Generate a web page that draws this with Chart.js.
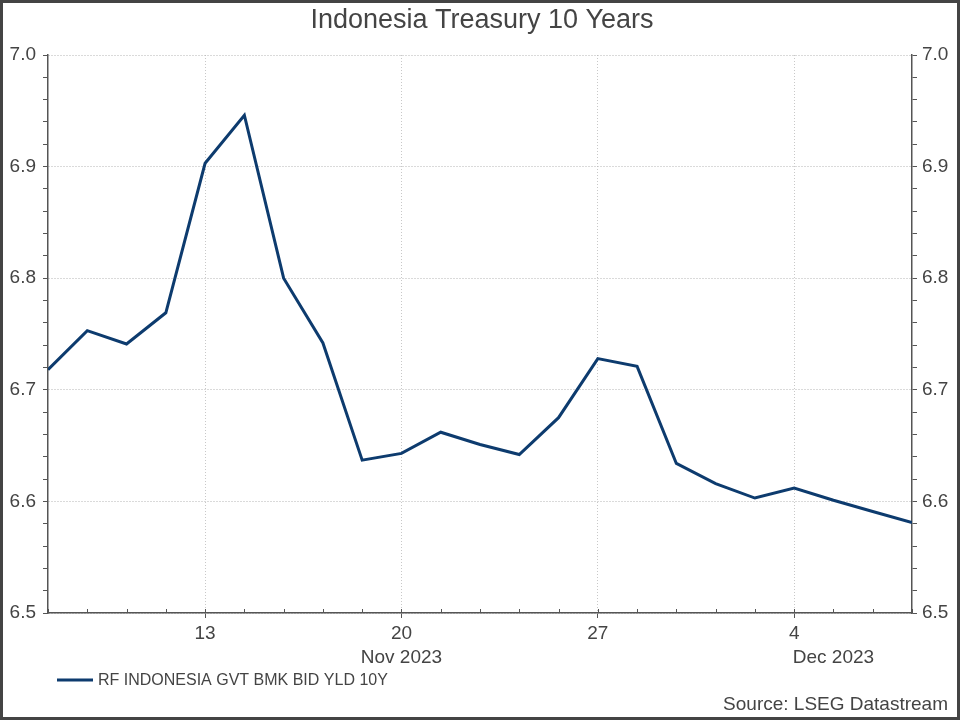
<!DOCTYPE html>
<html>
<head>
<meta charset="utf-8">
<script src="https://cdn.jsdelivr.net/npm/chart.js@4/dist/chart.umd.min.js"></script>
<style>
  html, body { margin: 0; padding: 0; background: #fff; }
  #wrap { width: 960px; height: 720px; }
</style>
</head>
<body>
<div id="wrap"><canvas id="chart" width="960" height="720"></canvas></div>
<script>
// business days, 7 Nov 2023 .. 7 Dec 2023
var dates = ['7 Nov', '8 Nov', '9 Nov', '10 Nov', '13 Nov', '14 Nov', '15 Nov', '16 Nov', '17 Nov',
             '20 Nov', '21 Nov', '22 Nov', '23 Nov', '24 Nov', '27 Nov', '28 Nov', '29 Nov', '30 Nov',
             '1 Dec', '4 Dec', '5 Dec', '6 Dec', '7 Dec'];
var yields = [6.718, 6.753, 6.741, 6.769, 6.903, 6.946, 6.800, 6.742, 6.637,
              6.643, 6.662, 6.651, 6.642, 6.675, 6.728, 6.721, 6.634, 6.616,
              6.603, 6.612, 6.601, 6.591, 6.581];
var dayTickIdx = [4, 9, 14, 19];
var dayTickLabels = ['13', '20', '27', '4'];
var monthTickIdx = [9, 20];
var monthTickLabels = ['Nov 2023', 'Dec 2023'];
var yMajorTicks = [6.5, 6.6, 6.7, 6.8, 6.9, 7.0];

var seriesName = 'RF INDONESIA GVT BMK BID YLD 10Y';
var titleText = 'Indonesia Treasury 10 Years';
var sourceText = 'Source: LSEG Datastream';

var LINE = '#0d3b6e';
var TEXT = '#444444';
var FONT = '"Liberation Sans", Arial, sans-serif';

function isMajorY(v) {
    return yMajorTicks.some(function(t) { return Math.abs(t - v) < 1e-6; });
}

var points = yields.map(function(v, i) { return {x: i, y: v}; });

var decor = {
    id: 'decor',
    afterDraw: function(chart) {
        var ctx = chart.ctx;
        var area = chart.chartArea;
        var xs = chart.scales.x;
        ctx.save();
        // inward minor ticks on x axis
        ctx.strokeStyle = '#555';
        ctx.lineWidth = 1;
        for (var i = 0; i < dates.length; i++) {
            var px = Math.round(xs.getPixelForValue(i)) + 0.5;
            ctx.beginPath();
            ctx.moveTo(px, area.bottom);
            ctx.lineTo(px, area.bottom - 4);
            ctx.stroke();
        }
        // title
        ctx.fillStyle = TEXT;
        ctx.font = '27px ' + FONT;
        ctx.textAlign = 'center';
        ctx.textBaseline = 'middle';
        ctx.fillText(titleText, 482, 21);
        // legend
        ctx.strokeStyle = LINE;
        ctx.lineWidth = 3;
        ctx.beginPath();
        ctx.moveTo(57, 680);
        ctx.lineTo(93, 680);
        ctx.stroke();
        ctx.font = '16px ' + FONT;
        ctx.textAlign = 'left';
        ctx.fillText(seriesName, 98, 681);
        // source
        ctx.font = '19px ' + FONT;
        ctx.textAlign = 'right';
        ctx.fillText(sourceText, 948, 705);
        // frame
        ctx.strokeStyle = '#444';
        ctx.lineWidth = 3;
        ctx.strokeRect(1.5, 1.5, 957, 717);
        ctx.restore();
    }
};

var yAxis = function(pos) {
    return {
        type: 'linear',
        position: pos,
        min: 6.5,
        max: 7.0,
        afterFit: function(scale) { scale.width = 48; },
        ticks: {
            stepSize: 0.02,
            autoSkip: false,
            padding: pos === 'left' ? 7 : 5,
            color: TEXT,
            font: {family: FONT, size: 19},
            callback: function(v) { return isMajorY(v) ? v.toFixed(1) : ''; }
        },
        grid: {
            drawOnChartArea: pos === 'left',
            color: function(c) { return c.tick && isMajorY(c.tick.value) ? '#b5b5b5' : 'rgba(0,0,0,0)'; },
            lineWidth: 1,
            tickLength: 5,
            tickColor: '#555',
            tickWidth: 1
        },
        border: {display: true, color: '#555', width: 1.5, dash: [1, 2]}
    };
};

new Chart(document.getElementById('chart'), {
    type: 'line',
    data: {
        datasets: [{
            label: seriesName,
            data: points,
            borderColor: LINE,
            borderWidth: 3,
            pointRadius: 0,
            tension: 0,
            fill: false
        }]
    },
    options: {
        responsive: false,
        animation: false,
        layout: {padding: {top: 55, left: 0, right: 0, bottom: 0}},
        plugins: {
            legend: {display: false},
            title: {display: false},
            tooltip: {enabled: false}
        },
        scales: {
            x: {
                type: 'linear',
                min: 0,
                max: dates.length - 1,
                afterFit: function(scale) { scale.height = 107; },
                afterBuildTicks: function(scale) {
                    var idx = dayTickIdx.concat(monthTickIdx.filter(function(m) { return dayTickIdx.indexOf(m) < 0; }));
                    scale.ticks = idx.map(function(v) { return {value: v}; });
                },
                ticks: {
                    autoSkip: false,
                    maxRotation: 0,
                    padding: 3,
                    color: TEXT,
                    font: {family: FONT, size: 19, lineHeight: 1.3},
                    callback: function(v) {
                        var d = dayTickIdx.indexOf(v);
                        var m = monthTickIdx.indexOf(v);
                        var lines = [d >= 0 ? dayTickLabels[d] : ''];
                        if (m >= 0) lines.push(monthTickLabels[m]);
                        return lines;
                    }
                },
                grid: {
                    color: function(c) { return c.tick && dayTickIdx.indexOf(c.tick.value) >= 0 ? '#c8c8c8' : 'rgba(0,0,0,0)'; },
                    lineWidth: 1,
                    tickLength: 5,
                    tickColor: function(c) { return c.tick && dayTickIdx.indexOf(c.tick.value) >= 0 ? '#555' : 'rgba(0,0,0,0)'; }
                },
                border: {display: true, color: '#555', width: 1.5, dash: [1, 2]}
            },
            y: yAxis('left'),
            y2: yAxis('right')
        }
    },
    plugins: [decor]
});
</script>
</body>
</html>
